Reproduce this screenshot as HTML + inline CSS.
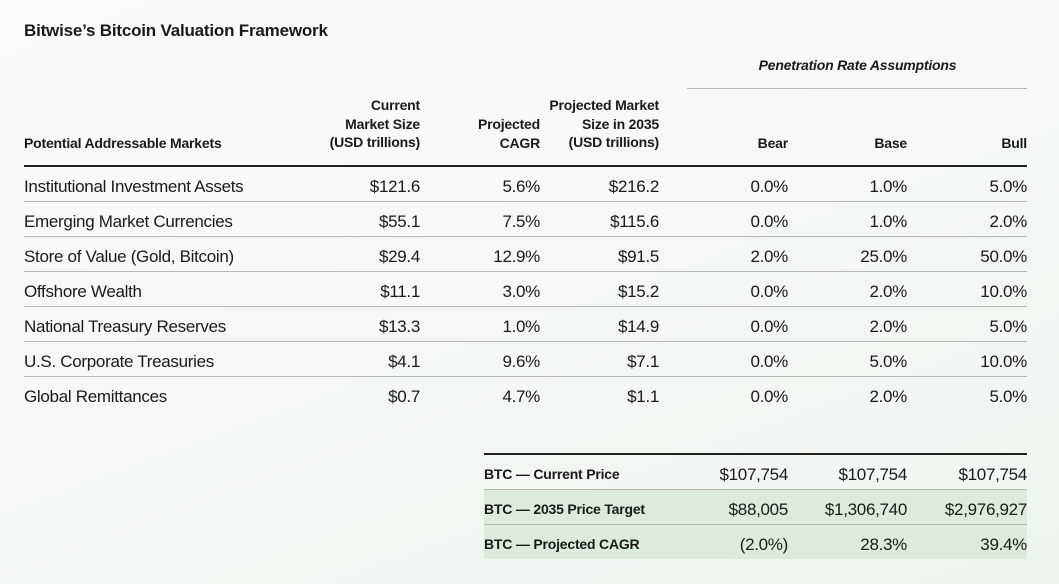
<!DOCTYPE html>
<html><head><style>
*{margin:0;padding:0;box-sizing:border-box}
body{width:1059px;height:584px;overflow:hidden;background:linear-gradient(160deg,#fbfbfb 0%,#f5f8f5 50%,#edf5ee 100%);font-family:"Liberation Sans",sans-serif;color:#1a1a1a;position:relative}
.a{position:absolute;white-space:nowrap}
.t{left:24px;top:21px;font-size:17px;font-weight:bold;letter-spacing:-0.2px}
.h{font-size:14px;font-weight:bold;text-align:right;line-height:18.5px;letter-spacing:-0.2px}
.r{font-size:17px;letter-spacing:-0.3px;line-height:20px}
.n{text-align:right;width:140px}
.ln{position:absolute;height:1px;background:#b5b8b5}
.bk{position:absolute;height:2px;background:#222}
.g{position:absolute;left:484px;width:543px;height:34px;background:#dcebdc}
.b{font-size:14px;font-weight:bold;letter-spacing:-0.2px}
</style></head><body>
<div class="a t">Bitwise’s Bitcoin Valuation Framework</div>
<div class="a" style="left:688px;width:339px;top:57px;text-align:center;font-size:14px;font-weight:bold;font-style:italic;letter-spacing:-0.2px">Penetration Rate Assumptions</div>
<div class="ln" style="left:687px;width:340px;top:88px"></div>
<div class="a h" style="left:24px;top:134px;text-align:left">Potential Addressable Markets</div>
<div class="a h" style="left:280px;width:140px;top:96px">Current<br>Market Size<br>(USD trillions)</div>
<div class="a h" style="left:400px;width:140px;top:115px">Projected<br>CAGR</div>
<div class="a h" style="left:500px;width:159px;top:96px">Projected Market<br>Size in 2035<br>(USD trillions)</div>
<div class="a h" style="left:648px;width:140px;top:134px">Bear</div>
<div class="a h" style="left:767px;width:140px;top:134px">Base</div>
<div class="a h" style="left:887px;width:140px;top:134px">Bull</div>
<div class="bk" style="left:24px;width:1003px;top:165px"></div>
<div id="rows"></div>
<div class="ln" style="left:24px;width:1003px;top:236px"></div>
<div class="ln" style="left:24px;width:1003px;top:271px"></div>
<div class="ln" style="left:24px;width:1003px;top:306px"></div>
<div class="ln" style="left:24px;width:1003px;top:341px"></div>
<div class="ln" style="left:24px;width:1003px;top:376px"></div>
<div class="ln" style="left:24px;width:1003px;top:201px"></div>
<script>
var d=[["Institutional Investment Assets","$121.6","5.6%","$216.2","0.0%","1.0%","5.0%"],
["Emerging Market Currencies","$55.1","7.5%","$115.6","0.0%","1.0%","2.0%"],
["Store of Value (Gold, Bitcoin)","$29.4","12.9%","$91.5","2.0%","25.0%","50.0%"],
["Offshore Wealth","$11.1","3.0%","$15.2","0.0%","2.0%","10.0%"],
["National Treasury Reserves","$13.3","1.0%","$14.9","0.0%","2.0%","5.0%"],
["U.S. Corporate Treasuries","$4.1","9.6%","$7.1","0.0%","5.0%","10.0%"],
["Global Remittances","$0.7","4.7%","$1.1","0.0%","2.0%","5.0%"]];
var R=[420,540,659,788,907,1027],h="";
d.forEach(function(r,i){var y=177+35*i;h+='<div class="a r" style="left:24px;top:'+y+'px">'+r[0]+'</div>';
for(var j=1;j<7;j++)h+='<div class="a r n" style="left:'+(R[j-1]-140)+'px;top:'+y+'px">'+r[j]+'</div>';});
document.getElementById('rows').innerHTML=h;
</script>
<div class="bk" style="left:484px;width:543px;top:453px"></div>
<div class="g" style="top:490px"></div>
<div class="ln" style="left:484px;width:543px;top:489px"></div>
<div class="g" style="top:525px"></div>
<div class="ln" style="left:484px;width:543px;top:524px;background:#b0b8b0"></div>
<div class="a b" style="left:484px;top:466px">BTC — Current Price</div>
<div class="a b" style="left:484px;top:501px">BTC — 2035 Price Target</div>
<div class="a b" style="left:484px;top:536px">BTC — Projected CAGR</div>
<div class="a r n" style="left:648px;top:465px">$107,754</div>
<div class="a r n" style="left:767px;top:465px">$107,754</div>
<div class="a r n" style="left:887px;top:465px">$107,754</div>
<div class="a r n" style="left:648px;top:500px">$88,005</div>
<div class="a r n" style="left:767px;top:500px">$1,306,740</div>
<div class="a r n" style="left:887px;top:500px">$2,976,927</div>
<div class="a r n" style="left:648px;top:535px">(2.0%)</div>
<div class="a r n" style="left:767px;top:535px">28.3%</div>
<div class="a r n" style="left:887px;top:535px">39.4%</div>
</body></html>
